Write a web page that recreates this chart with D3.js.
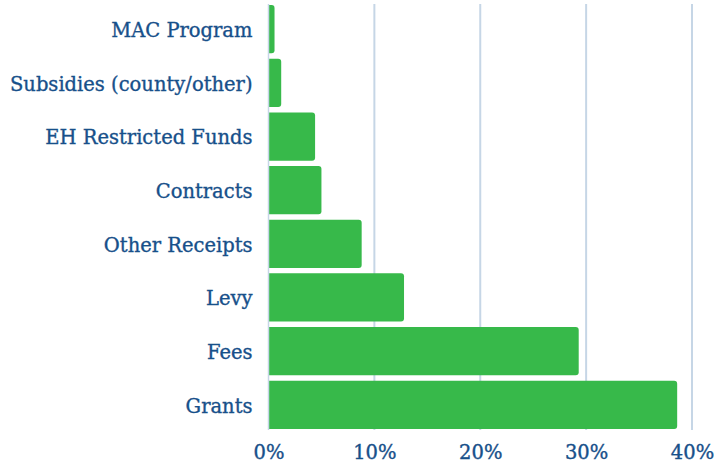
<!DOCTYPE html>
<html><head><meta charset="utf-8">
<script src="https://cdn.jsdelivr.net/npm/d3@7"></script>
<style>body{margin:0;background:#fff}svg{display:block}</style>
</head><body>
<svg id="c" width="719" height="475"></svg>
<script>
const categories = ["MAC Program","Subsidies (county/other)","EH Restricted Funds","Contracts","Other Receipts","Levy","Fees","Grants"];
const values = [0.57, 1.2, 4.4, 5.0, 8.8, 12.8, 29.3, 38.6];
const tickValues = [0, 10, 20, 30, 40];

const svg = d3.select("#c");
const x = d3.scaleLinear().domain([0, 40]).range([268.5, 692]);
const y = d3.scaleBand().domain(categories).range([4, 430]).paddingInner(0.1).paddingOuter(0.02);
const font = "'DejaVu Serif', serif";
const textColor = "#17508a";

// gridlines
svg.append("g").selectAll("line").data(tickValues.slice(1)).join("line")
  .attr("x1", d => x(d)).attr("x2", d => x(d))
  .attr("y1", 4).attr("y2", 430)
  .attr("stroke", "#c6d6e6").attr("stroke-width", 2);

// bars with rounded right corners
const r = 3;
svg.append("g").selectAll("path").data(categories).join("path")
  .attr("d", (c, i) => {
    const x0 = x(0), x1 = x(values[i]), y0 = y(c), h = y.bandwidth();
    const rr = Math.min(r, (x1 - x0) / 2);
    return `M${x0},${y0}H${x1 - rr}Q${x1},${y0} ${x1},${y0 + rr}V${y0 + h - rr}Q${x1},${y0 + h} ${x1 - rr},${y0 + h}H${x0}Z`;
  })
  .attr("fill", "#37b94a");

// baseline
svg.append("line").attr("x1", x(0)).attr("x2", x(0)).attr("y1", 4).attr("y2", 430)
  .attr("stroke", "#c6d6e6").attr("stroke-width", 1.5);

// y labels
const yAxis = d3.axisLeft(y).tickSize(0).tickPadding(16);
const gy = svg.append("g").attr("transform", `translate(${x(0)},1.5)`).call(yAxis);
gy.select(".domain").remove();
gy.selectAll("text").attr("font-family", font).attr("font-size", 19.5).attr("fill", textColor)
  .attr("stroke", textColor).attr("stroke-width", 0.35);

// x labels
const xAxis = d3.axisBottom(x).tickValues(tickValues).tickFormat(d => d + "%").tickSize(0).tickPadding(0);
const gx = svg.append("g").attr("transform", `translate(0,445)`).call(xAxis);
gx.select(".domain").remove();
gx.selectAll("text").attr("font-family", font).attr("font-size", 19.5).attr("fill", textColor)
  .attr("stroke", textColor).attr("stroke-width", 0.35);
</script>
</body></html>
